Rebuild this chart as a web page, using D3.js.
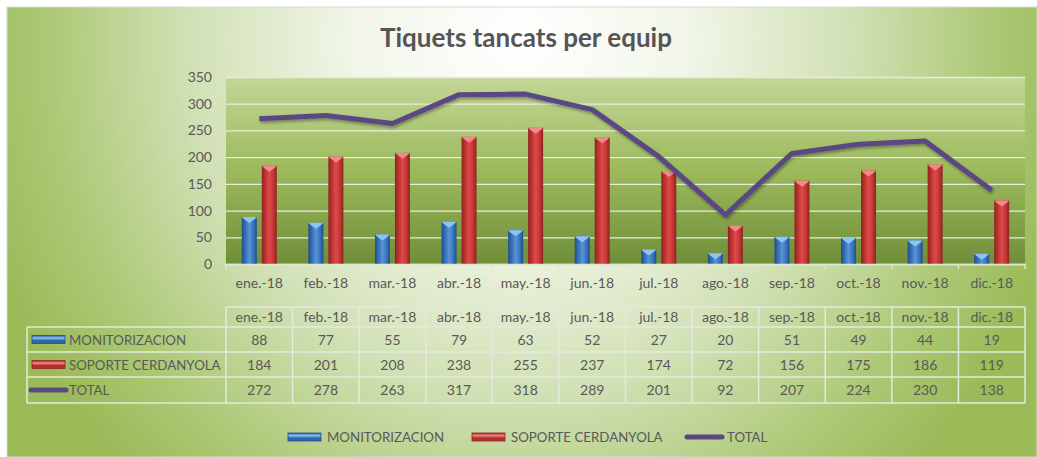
<!DOCTYPE html>
<html>
<head>
<meta charset="utf-8">
<script src="https://cdn.jsdelivr.net/npm/d3@7"></script>
<style>
 body{margin:0;background:#fff;overflow:hidden}
 text{font-family:Lato,"Liberation Sans",Arial,sans-serif;fill:#595959}
</style>
</head>
<body>
<div id="chartDiv"></div>
<script>
//---data---
var Months=["ene.-18","feb.-18","mar.-18","abr.-18","may.-18","jun.-18","jul.-18","ago.-18","sep.-18","oct.-18","nov.-18","dic.-18"]
var Monitorizacion=[88,77,55,79,63,52,27,20,51,49,44,19]
var Soporte=[184,201,208,238,255,237,174,72,156,175,186,119]
var Total=[272,278,263,317,318,289,201,92,207,224,230,138]
var SeriesNames=["MONITORIZACION","SOPORTE CERDANYOLA","TOTAL"]
var YTicks=[0,50,100,150,200,250,300,350]

var Width=1037
var Height=457
var PlotLeft=226
var PlotRight=1025
var PlotTop=77
var PlotBottom=264
var FontSize="13.3px"
var NumSize="14px"
var FontFam="Lato, Liberation Sans, Arial, sans-serif"

var ChartSVG=d3.select("#chartDiv").append("svg")
  .attr("width",Width).attr("height",Height)

var defs=ChartSVG.append("defs")

//---chart area radial fill---
var bgGrad=defs.append("radialGradient")
  .attr("id","bgGrad")
  .attr("gradientUnits","userSpaceOnUse")
  .attr("cx",520).attr("cy",40).attr("r",560)
  .attr("gradientTransform","translate(520,40) scale(1,1.07) translate(-520,-40)")
bgGrad.append("stop").attr("offset","0").attr("stop-color","#ffffff")
bgGrad.append("stop").attr("offset","0.3").attr("stop-color","#f1f6e8")
bgGrad.append("stop").attr("offset","0.6").attr("stop-color","#d0e0b3")
bgGrad.append("stop").attr("offset","0.85").attr("stop-color","#abc874")
bgGrad.append("stop").attr("offset","1").attr("stop-color","#9bbb59")

//---plot area fill---
var plotGrad=defs.append("linearGradient")
  .attr("id","plotGrad").attr("x1",0).attr("y1",0).attr("x2",0).attr("y2",1)
plotGrad.append("stop").attr("offset","0").attr("stop-color","#c3d697")
plotGrad.append("stop").attr("offset","0.5").attr("stop-color","#9cba5c")
plotGrad.append("stop").attr("offset","1").attr("stop-color","#6f8e38")

//---cylinder look for bars---
function barGrad(id,edge,mid,light)
{
  var g=defs.append("linearGradient").attr("id",id)
    .attr("x1",0).attr("y1",0).attr("x2",1).attr("y2",0)
  g.append("stop").attr("offset","0").attr("stop-color",edge)
  g.append("stop").attr("offset","0.3").attr("stop-color",mid)
  g.append("stop").attr("offset","0.5").attr("stop-color",light)
  g.append("stop").attr("offset","0.75").attr("stop-color",mid)
  g.append("stop").attr("offset","1").attr("stop-color",edge)
}
barGrad("blueGrad","#1f4e8c","#3c78c0","#5a94d6")
barGrad("redGrad","#8e2221","#c63836","#dc4b48")

function keyGrad(id,dark,light)
{
  var g=defs.append("linearGradient").attr("id",id).attr("x1",0).attr("y1",0).attr("x2",0).attr("y2",1)
  g.append("stop").attr("offset","0").attr("stop-color",dark)
  g.append("stop").attr("offset","0.35").attr("stop-color",light)
  g.append("stop").attr("offset","0.6").attr("stop-color",dark)
  g.append("stop").attr("offset","1").attr("stop-color",dark)
}
keyGrad("blueKey","#3166ab","#8cc4f2")
keyGrad("redKey","#b32f2d","#f08a86")

var shadow=defs.append("filter").attr("id","lineShadow")
  .attr("x","-5%").attr("y","-20%").attr("width","110%").attr("height","140%")
shadow.append("feDropShadow")
  .attr("dx",1).attr("dy",2).attr("stdDeviation",1.5)
  .attr("flood-color","#000").attr("flood-opacity",0.35)

//---spreadsheet edge + chart area---
ChartSVG.append("rect")
  .attr("x",7).attr("y",7).attr("width",Width-7).attr("height",Height-7)
  .attr("fill","url(#bgGrad)")
  .attr("stroke","#d9d9d9").attr("stroke-width",1)

ChartSVG.append("text")
  .attr("x",526).attr("y",47)
  .attr("text-anchor","middle")
  .attr("font-size","26px").attr("font-weight","bold")
  .style("fill","#555")
  .text("Tiquets tancats per equip")

//---scales---
var X=d3.scaleBand().domain(Months).range([PlotLeft,PlotRight]).paddingInner(0)
var XSub=d3.scaleBand().domain(["m","s"]).range([0,X.bandwidth()]).paddingInner(0.25).paddingOuter(0.79)
var Y=d3.scaleLinear().domain([0,350]).range([PlotBottom,PlotTop])

ChartSVG.append("rect")
  .attr("x",PlotLeft).attr("y",PlotTop)
  .attr("width",PlotRight-PlotLeft).attr("height",PlotBottom-PlotTop)
  .attr("fill","url(#plotGrad)")

//---gridlines---
ChartSVG.append("g")
  .attr("transform","translate("+PlotLeft+",0)")
  .call(d3.axisLeft(Y).tickValues(YTicks).tickSize(-(PlotRight-PlotLeft)).tickFormat(""))
  .call(function(g){g.select(".domain").remove()})
  .selectAll("line").attr("stroke","#e8ecdf").attr("stroke-width",1.3)

//---y labels---
var yAxis=ChartSVG.append("g")
  .attr("transform","translate("+PlotLeft+",0)")
  .call(d3.axisLeft(Y).tickValues(YTicks).tickSize(0).tickPadding(14))
yAxis.select(".domain").remove()
yAxis.selectAll("text").attr("font-size",NumSize).attr("fill","#595959")
  .attr("font-family",FontFam)

//---bars---
var barG=ChartSVG.append("g")
function drawBars(vals,key,fill,cap)
{
  var g=barG.append("g")
  g.selectAll("rect").data(vals).enter().append("rect")
    .attr("x",function(d,i){return X(Months[i])+XSub(key)})
    .attr("y",function(d){return Y(d)})
    .attr("width",XSub.bandwidth())
    .attr("height",function(d){return Y(0)-Y(d)})
    .attr("fill",fill)
  g.selectAll("path").data(vals).enter().append("path")
    .attr("d",function(d,i){
      var x0=X(Months[i])+XSub(key),w=XSub.bandwidth(),y0=Y(d)
      return "M"+x0+","+y0+"L"+(x0+w)+","+y0+"L"+(x0+w-2)+","+(y0+2)+"L"+(x0+w/2)+","+(y0+6)+"L"+(x0+2)+","+(y0+2)+"Z"
    })
    .attr("fill",cap)
}
drawBars(Monitorizacion,"m","url(#blueGrad)","#8cc4f2")
drawBars(Soporte,"s","url(#redGrad)","#f08a86")

//---total line---
var line=d3.line()
  .x(function(d,i){return X(Months[i])+X.bandwidth()/2})
  .y(function(d){return Y(d)})
ChartSVG.append("path")
  .datum(Total)
  .attr("d",line)
  .attr("fill","none")
  .attr("stroke","#5c4785")
  .attr("stroke-width",5)
  .attr("stroke-linejoin","round")
  .attr("filter","url(#lineShadow)")

//---x axis---
var xAxis=ChartSVG.append("g")
  .attr("transform","translate(0,"+PlotBottom+")")
  .call(d3.axisBottom(X).tickSize(0).tickPadding(14))
xAxis.select(".domain").attr("stroke","#dfe6d2").attr("stroke-width",1.5)
xAxis.selectAll("text").attr("font-size",NumSize).attr("fill","#595959")
  .attr("font-family",FontFam)
ChartSVG.append("g").selectAll("line").data(Months.concat(["end"])).enter().append("line")
  .attr("x1",function(d){return d=="end"?PlotRight:X(d)})
  .attr("x2",function(d){return d=="end"?PlotRight:X(d)})
  .attr("y1",PlotBottom).attr("y2",PlotBottom+5)
  .attr("stroke","#dfe6d2").attr("stroke-width",1.5)

//---data table---
var TableLeft=27
var RowY=[307,327,352,377,403]
var tableG=ChartSVG.append("g")
var gridColor="#e3eadb"
tableG.append("line").attr("x1",PlotLeft).attr("x2",PlotRight).attr("y1",RowY[0]).attr("y2",RowY[0])
  .attr("stroke",gridColor).attr("stroke-width",1.5)
tableG.selectAll(".hl").data(RowY.slice(1)).enter().append("line")
  .attr("x1",TableLeft).attr("x2",PlotRight)
  .attr("y1",function(d){return d}).attr("y2",function(d){return d})
  .attr("stroke",gridColor).attr("stroke-width",1.5)
tableG.selectAll(".vl").data(Months.concat(["end"])).enter().append("line")
  .attr("x1",function(d){return d=="end"?PlotRight:X(d)})
  .attr("x2",function(d){return d=="end"?PlotRight:X(d)})
  .attr("y1",RowY[0]).attr("y2",RowY[4])
  .attr("stroke",gridColor).attr("stroke-width",1.5)
tableG.append("line").attr("x1",TableLeft).attr("x2",TableLeft).attr("y1",RowY[1]).attr("y2",RowY[4])
  .attr("stroke",gridColor).attr("stroke-width",1.5)

tableG.selectAll(".hdr").data(Months).enter().append("text")
  .attr("x",function(d){return X(d)+X.bandwidth()/2})
  .attr("y",(RowY[0]+RowY[1])/2+5)
  .attr("text-anchor","middle").attr("font-size",NumSize)
  .text(function(d){return d})

//---legend keys---
function legendKey(g,r,x,cy)
{
  if(r<2)
  {
    g.append("rect").attr("x",x).attr("y",cy-4).attr("width",33).attr("height",8)
      .attr("fill",r==0?"url(#blueKey)":"url(#redKey)")
      .attr("stroke",r==0?"#1f4e8c":"#8e2221").attr("stroke-width",0.8)
  }
  else
  {
    g.append("line").attr("x1",x-1).attr("x2",x+34).attr("y1",cy).attr("y2",cy)
      .attr("stroke","#5c4785").attr("stroke-width",5).attr("stroke-linecap","round")
  }
}

var Rows=[Monitorizacion,Soporte,Total]
Rows.forEach(function(vals,r){
  var cy=(RowY[r+1]+RowY[r+2])/2
  tableG.append("g").selectAll("text").data(vals).enter().append("text")
    .attr("x",function(d,i){return X(Months[i])+X.bandwidth()/2})
    .attr("y",cy+5)
    .attr("text-anchor","middle").attr("font-size",NumSize)
    .text(function(d){return d})
  tableG.append("text")
    .attr("x",69).attr("y",cy+5).attr("font-size",FontSize)
    .text(SeriesNames[r])
  legendKey(tableG,r,32,cy)
})

//---bottom legend---
var legG=ChartSVG.append("g")
var legX=[288,472,687]
SeriesNames.forEach(function(name,r){
  legendKey(legG,r,legX[r]+(r==2?1:0),437)
  legG.append("text")
    .attr("x",legX[r]+(r==2?40:39)).attr("y",442).attr("font-size",FontSize)
    .text(name)
})
</script>
</body>
</html>
